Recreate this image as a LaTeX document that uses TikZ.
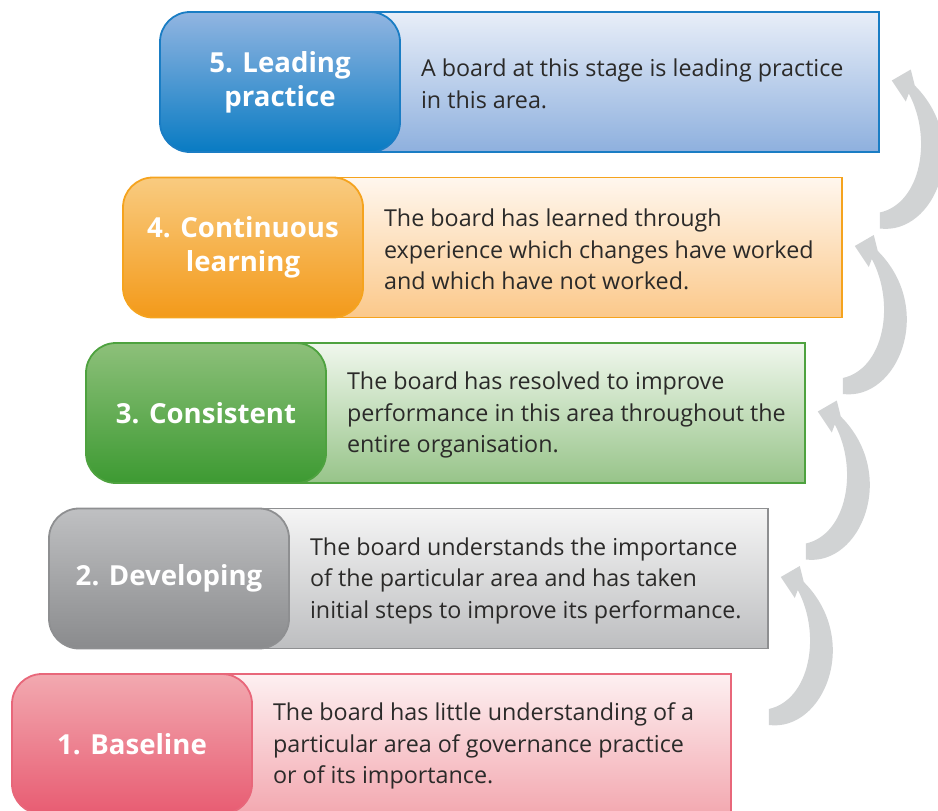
\documentclass[tikz,border=0pt]{standalone}
\usepackage{fontspec}
\setmainfont{Open Sans}
\usepackage{tikz}
\usetikzlibrary{positioning}
\definecolor{txt}{HTML}{2B2A29}
\definecolor{arrowgray}{HTML}{D1D3D4}
% stage colours
\definecolor{redline}{HTML}{E8677A}
\definecolor{redtop}{HTML}{F2A9B0}
\definecolor{redbot}{HTML}{E85C72}
\definecolor{redpaneltop}{HTML}{FDF0F1}
\definecolor{redpanelbot}{HTML}{F3A8B0}
\definecolor{grayline}{HTML}{8E8F91}
\definecolor{graytop}{HTML}{BFC0C2}
\definecolor{graybot}{HTML}{8A8B8D}
\definecolor{graypaneltop}{HTML}{F5F5F5}
\definecolor{graypanelbot}{HTML}{BDBEC0}
\definecolor{greenline}{HTML}{4EA23F}
\definecolor{greentop}{HTML}{8DC07A}
\definecolor{greenbot}{HTML}{3D9A32}
\definecolor{greenpaneltop}{HTML}{F0F7ED}
\definecolor{greenpanelbot}{HTML}{97C489}
\definecolor{orangeline}{HTML}{F5A31E}
\definecolor{orangetop}{HTML}{F9CB80}
\definecolor{orangebot}{HTML}{F39A1A}
\definecolor{orangepaneltop}{HTML}{FFF7EE}
\definecolor{orangepanelbot}{HTML}{FBC88A}
\definecolor{blueline}{HTML}{1A7DC4}
\definecolor{bluetop}{HTML}{92B5E1}
\definecolor{bluebot}{HTML}{087BC3}
\definecolor{bluepaneltop}{HTML}{E8EEF8}
\definecolor{bluepanelbot}{HTML}{8EB0DE}
\tikzstyle{stage}=[draw, line width=1.8pt, rounded corners=30pt, minimum width=240pt, minimum height=140pt, text=white, align=center, font=\bfseries\fontsize{27.6}{34}\selectfont]
\tikzstyle{panel}=[draw, line width=1.8pt, anchor=west, minimum width=598pt, minimum height=140pt]
\tikzstyle{desc}=[align=left, text=txt, inner sep=0pt, font=\fontsize{23.3}{31.5}\selectfont]
\tikzstyle{climb}=[fill=arrowgray]

\begin{document}
\begin{tikzpicture}[x=1pt, y=-1pt]
\useasboundingbox (0,0) rectangle (938,811);
% panels behind the stage labels
\node[panel, draw=redline, top color=redpaneltop, bottom color=redpanelbot] (p1) at (132,744) {};
\node[panel, draw=grayline, top color=graypaneltop, bottom color=graypanelbot] (p2) at (169,578.5) {};
\node[panel, draw=greenline, top color=greenpaneltop, bottom color=greenpanelbot] (p3) at (206,413) {};
\node[panel, draw=orangeline, top color=orangepaneltop, bottom color=orangepanelbot] (p4) at (243,247.5) {};
\node[panel, draw=blueline, top color=bluepaneltop, bottom color=bluepanelbot] (p5) at (280,82) {};
% stage labels
\node[stage, draw=redline, top color=redtop, bottom color=redbot] (s1) at (p1.west) {1. Baseline};
\node[stage, draw=grayline, top color=graytop, bottom color=graybot] (s2) at (p2.west) {2. Developing};
\node[stage, draw=greenline, top color=greentop, bottom color=greenbot] (s3) at (p3.west) {3. Consistent};
\node[stage, draw=orangeline, top color=orangetop, bottom color=orangebot] (s4) at (p4.west) {4. Continuous\\learning};
\node[stage, draw=blueline, top color=bluetop, bottom color=bluebot] (s5) at (p5.west) {5. Leading\\practice};
% descriptions
\node[desc, right=20pt of s1, yshift=-2pt] (t1) {The board has little understanding of a\\particular area of governance practice\\or of its importance.};
\node[desc, right=20pt of s2, yshift=-2pt] (t2) {The board understands the importance\\of the particular area and has taken\\initial steps to improve its performance.};
\node[desc, right=20pt of s3, yshift=-2pt] (t3) {The board has resolved to improve\\performance in this area throughout the\\entire organisation.};
\node[desc, right=20pt of s4, yshift=-2pt] (t4) {The board has learned through\\experience which changes have worked\\and which have not worked.};
\node[desc, right=20pt of s5, yshift=-2pt] (t5) {A board at this stage is leading practice\\in this area.};
% curved arrows from each panel up to the next
\foreach \i in {1,...,4}{
  \begin{scope}[shift={(p\i.east)}]
    \fill[climb] (37,-19) .. controls (92,-12) and (130,-104) .. (72,-162)
      -- (68,-178) -- (49,-167) -- (63,-146) -- (66,-154)
      .. controls (90,-109) and (78,-44) .. (37,-35) -- cycle;
  \end{scope}
}
\end{tikzpicture}
\end{document}
